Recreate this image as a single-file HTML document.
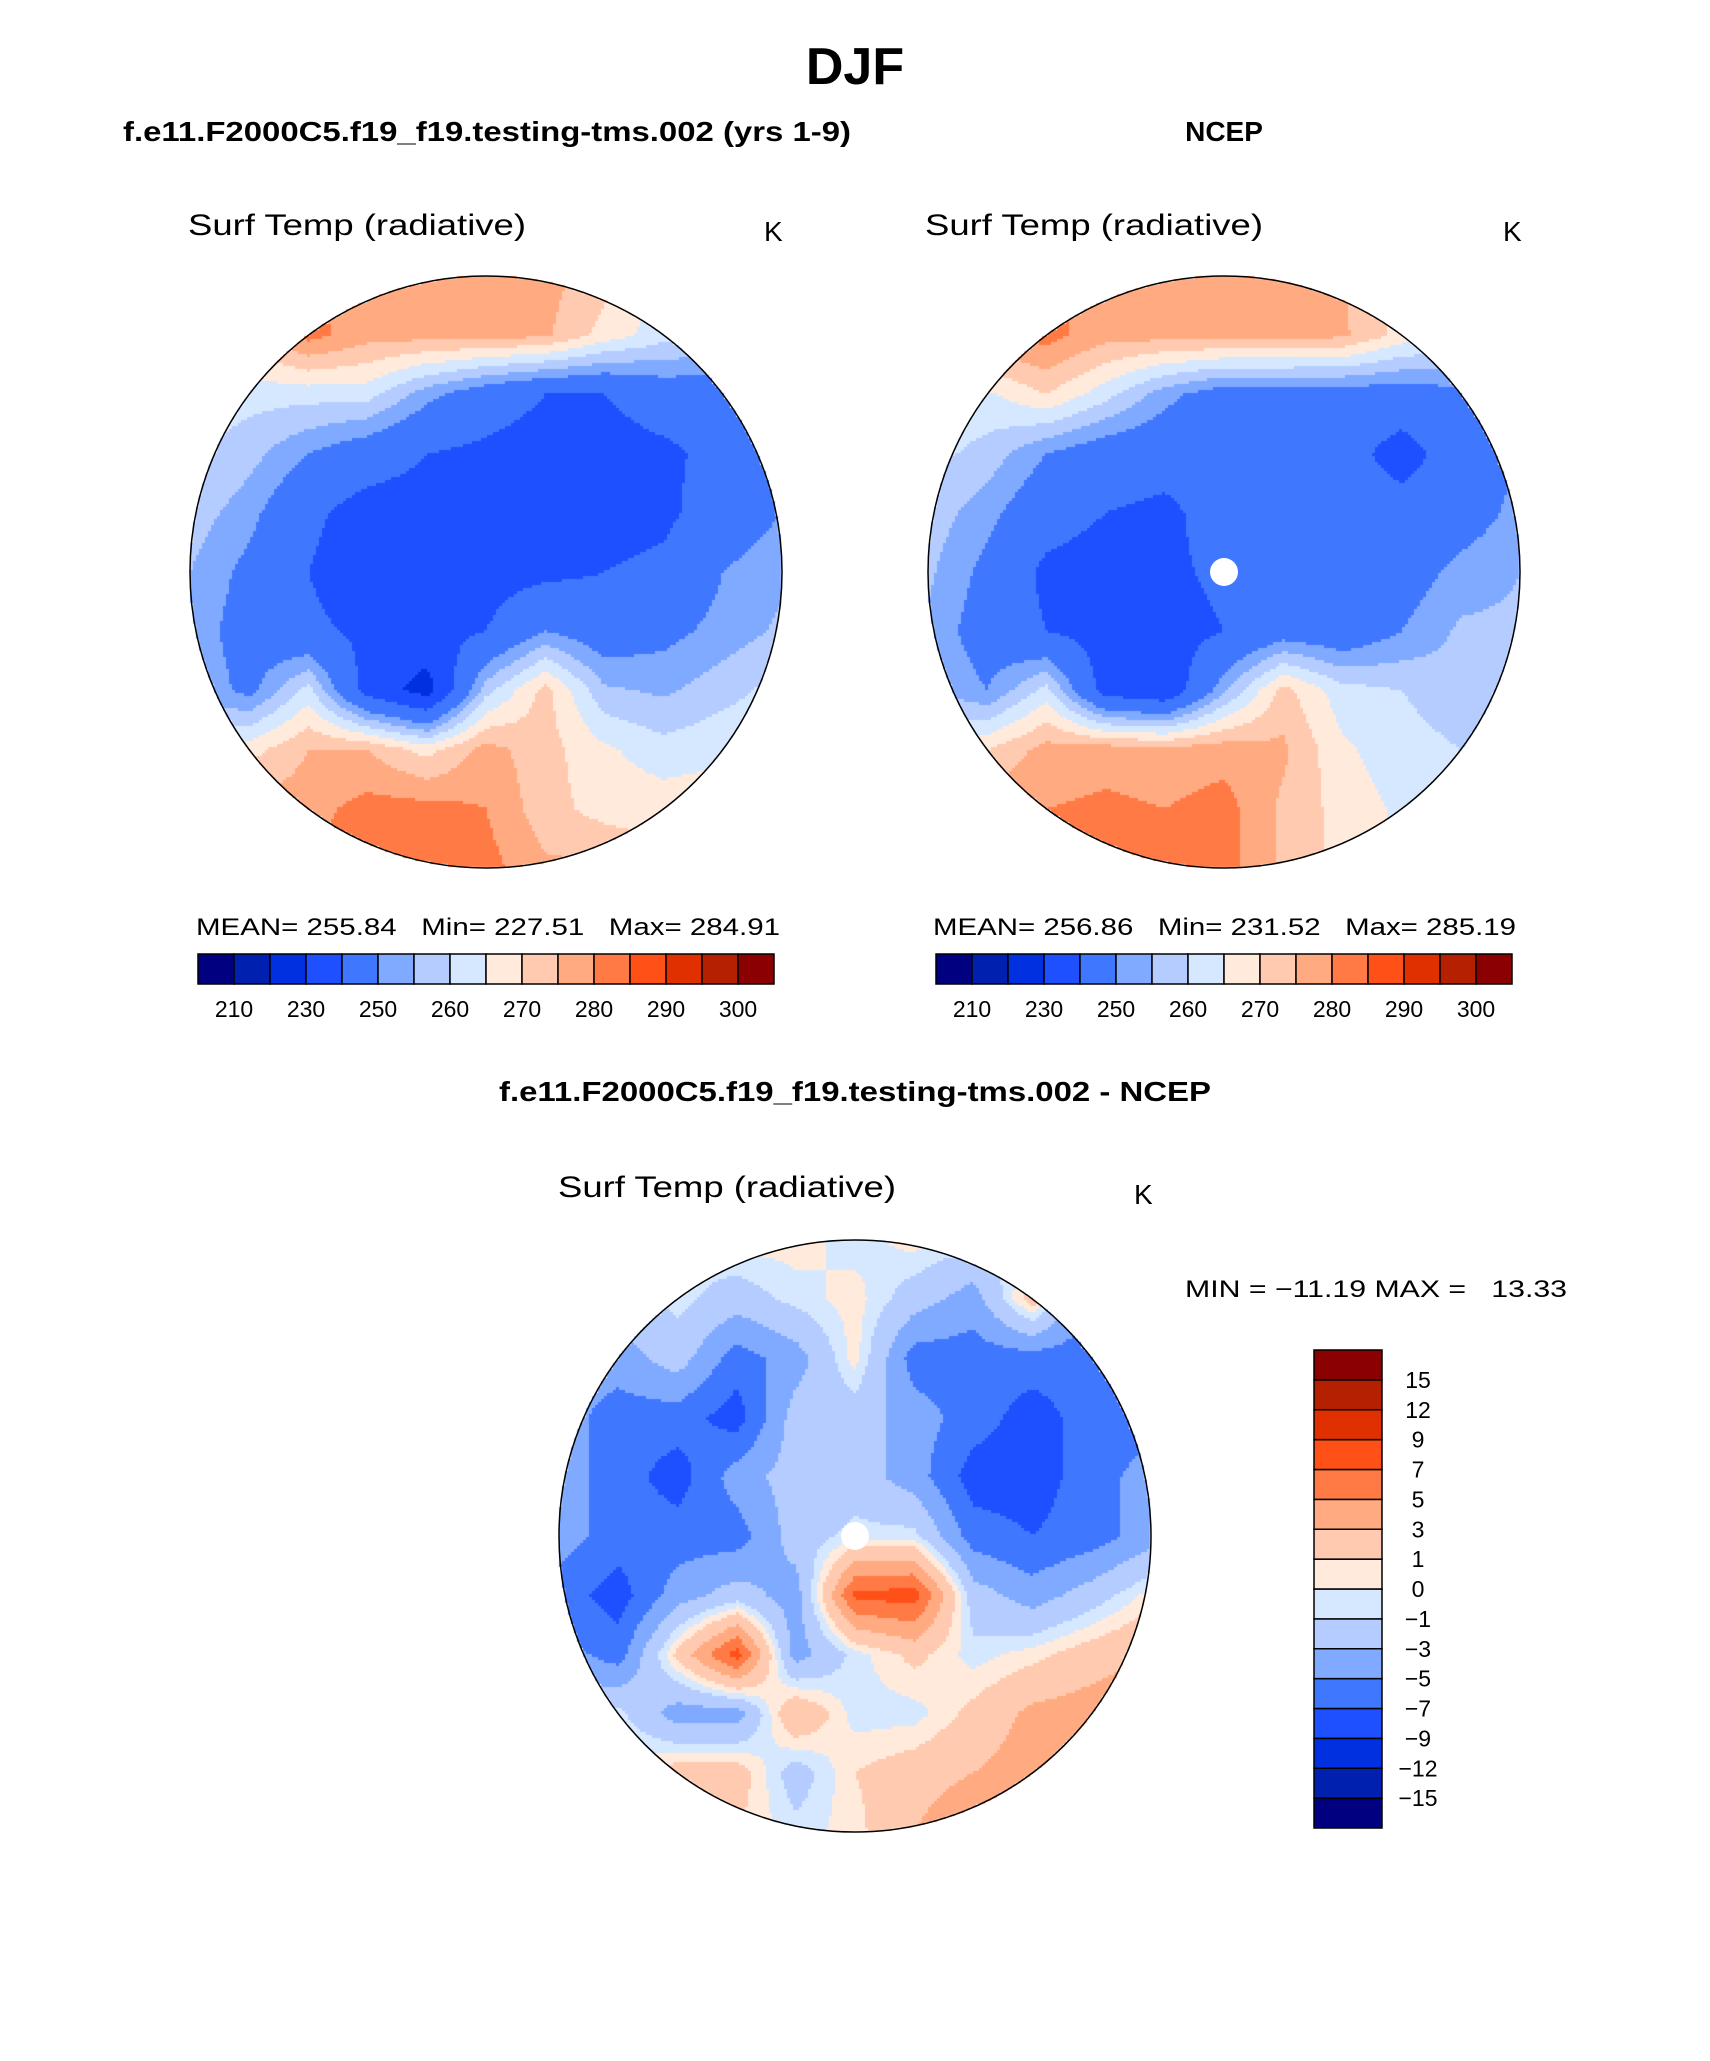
<!DOCTYPE html>
<html><head><meta charset="utf-8">
<style>
html,body{margin:0;padding:0;background:#fff;}
#wrap{position:relative;width:1710px;height:2061px;overflow:hidden;}
canvas,svg{position:absolute;left:0;top:0;}
</style></head>
<body>
<div id="wrap">
<canvas id="cv" width="1710" height="2061"></canvas>
<svg id="sv" width="1710" height="2061" xmlns="http://www.w3.org/2000/svg" font-family="Liberation Sans, sans-serif">
<text x="855" y="84" text-anchor="middle" font-size="52" font-weight="bold">DJF</text>
<text x="123" y="141" font-size="28" font-weight="bold" textLength="728" lengthAdjust="spacingAndGlyphs">f.e11.F2000C5.f19_f19.testing-tms.002 (yrs 1-9)</text>
<text x="1224" y="141" text-anchor="middle" font-size="28" font-weight="bold">NCEP</text>
<text x="188" y="235" font-size="30" textLength="338" lengthAdjust="spacingAndGlyphs">Surf Temp (radiative)</text>
<text x="764" y="241" font-size="28">K</text>
<text x="925" y="235" font-size="30" textLength="338" lengthAdjust="spacingAndGlyphs">Surf Temp (radiative)</text>
<text x="1503" y="241" font-size="28">K</text>
<text x="196" y="935" font-size="24" textLength="584" lengthAdjust="spacingAndGlyphs" xml:space="preserve">MEAN= 255.84   Min= 227.51   Max= 284.91</text>
<text x="933" y="935" font-size="24" textLength="583" lengthAdjust="spacingAndGlyphs" xml:space="preserve">MEAN= 256.86   Min= 231.52   Max= 285.19</text>
<text x="855" y="1101" text-anchor="middle" font-size="28" font-weight="bold" textLength="712" lengthAdjust="spacingAndGlyphs">f.e11.F2000C5.f19_f19.testing-tms.002 - NCEP</text>
<text x="558" y="1197" font-size="30" textLength="338" lengthAdjust="spacingAndGlyphs">Surf Temp (radiative)</text>
<text x="1134" y="1204" font-size="28">K</text>
<text x="1185" y="1297" font-size="24" textLength="382" lengthAdjust="spacingAndGlyphs" xml:space="preserve">MIN = −11.19 MAX =   13.33</text>
<g id="overlay"></g>
</svg>
</div>
<script>
// ---- colour scale data ----
const palette = ['#000080','#0020b0','#0030e0','#1e50ff','#4077ff','#80aaff','#b4ccff','#d6e8ff','#ffeadb','#ffcab0','#ffaa80','#ff7a45','#ff5018','#e03000','#b42000','#8b0000'];
const tempLevels = [210,220,230,240,250,255,260,265,270,275,280,285,290,295,300];
const tempTickLabels = ['210','230','250','260','270','280','290','300'];
const diffLevels = [-15,-12,-9,-7,-5,-3,-1,0,1,3,5,7,9,12,15];
const diffTickLabels = ['15','12','9','7','5','3','1','0','−1','−3','−5','−7','−9','−12','−15'];

// ---- field data (11x11 grid over each polar map, top row first) ----
const modelField = [
[277,277,280,277,277,277,277,272,265,262,262],
[272,272,282,277,277,277,276,268,262,260,258],
[262,262,262,262,252,245,240,240,245,245,245],
[262,257,250,245,240,238,236,236,238,243,248],
[258,252,242,236,236,236,236,236,238,245,250],
[255,248,240,234,234,236,238,240,242,250,254],
[254,246,242,238,236,240,250,245,248,252,256],
[255,248,262,236,226,258,272,256,254,258,262],
[262,268,275,275,268,277,272,266,262,264,265],
[276,277,278,282,282,280,272,268,268,268,268],
[282,282,282,282,282,282,276,276,270,268,268]];
const ncepField = [
[278,280,282,277,277,277,277,275,270,266,266],
[272,280,282,277,277,277,277,276,268,264,262],
[264,264,270,262,252,246,246,246,246,248,250],
[262,258,250,245,244,244,244,244,236,245,250],
[258,252,244,240,238,244,244,244,244,246,252],
[256,248,238,236,238,242,244,244,246,252,255],
[254,246,240,236,236,240,246,244,250,256,256],
[256,250,262,236,232,254,272,262,260,257,260],
[266,270,277,278,277,278,276,266,262,260,260],
[277,278,280,281,280,282,274,268,264,262,262],
[280,282,282,282,282,282,274,268,264,262,262]];
const diffField = [
[-0.5,-0.5,-0.5,0.5,0.5,-0.5,0.5,-0.5,-0.5,-0.5,-0.5],
[-4,-2,-0.5,-2,-0.5,0.5,-2,-4,2,-6,-6],
[-4,-4,-2,-6,-4,0.5,-6,-6,-6,-6,-6],
[-4,-6,-6,-8,-2,-2,-4,-6,-8,-6,-6],
[-4,-6,-8,-4,-2,-2,-4,-8,-8,-6,-4],
[-4,-6,-6,-6,-2,-0.5,-0.5,-6,-7,-6,-4],
[-6,-8,-4,-2,-4,7.5,8,-2,-4,-2,0.5],
[-4,-6,1.5,8,-4,-0.5,1.5,-0.5,0.5,2,3],
[-2,-0.5,-4,-4,3,-0.5,-0.5,1.5,3.5,4,5],
[1,0.5,2,2,-2,1,2,3,4,5.5,6],
[1,1,1,1,-0.5,0.5,3,5,6.5,8,8]];

const maps = [
 {field:modelField, levels:tempLevels, cx:486, cy:572, r:296, pole:false, name:'model-map'},
 {field:ncepField, levels:tempLevels, cx:1224, cy:572, r:296, pole:true, name:'ncep-map'},
 {field:diffField, levels:diffLevels, cx:855, cy:1536, r:296, pole:true, name:'diff-map'}
];

function colorFor(v, levels){
  let i=0; while(i<levels.length && v>=levels[i]) i++;
  return palette[i];
}
function sample(f, u, v){
  const n=f.length-1;
  u=Math.max(0,Math.min(n,u)); v=Math.max(0,Math.min(n,v));
  const i=Math.min(n-1,Math.floor(v)), j=Math.min(n-1,Math.floor(u));
  const fy=v-i, fx=u-j;
  const a=f[i][j],b=f[i][j+1],c=f[i+1][j],d=f[i+1][j+1];
  return a*(1-fx)*(1-fy)+b*fx*(1-fy)+c*(1-fx)*fy+d*fx*fy;
}
const ctx=document.getElementById('cv').getContext('2d');
const step=3;
maps.forEach(m=>{
  const n=m.field.length-1;
  for(let y=m.cy-m.r;y<m.cy+m.r;y+=step){
    for(let x=m.cx-m.r;x<m.cx+m.r;x+=step){
      const dx=x+step/2-m.cx, dy=y+step/2-m.cy;
      if(dx*dx+dy*dy>m.r*m.r) continue;
      const u=(x+step/2-(m.cx-m.r))/(2*m.r)*n, v=(y+step/2-(m.cy-m.r))/(2*m.r)*n;
      ctx.fillStyle=colorFor(sample(m.field,u,v),m.levels);
      ctx.fillRect(x,y,step,step);
    }
  }
});
const NS='http://www.w3.org/2000/svg';
const ov=document.getElementById('overlay');
function mk(tag,attrs){const e=document.createElementNS(NS,tag);for(const k in attrs)e.setAttribute(k,attrs[k]);ov.appendChild(e);return e;}
maps.forEach(m=>{
  if(m.pole){
    const p=mk('circle',{cx:m.cx,cy:m.cy,r:14,fill:'#fff'});
    
    
  }
  const c=mk('circle',{cx:m.cx,cy:m.cy,r:m.r,fill:'none',stroke:'#000','stroke-width':1.5});
  
  
});
[{x0:198,name:'left-colorbar'},{x0:936,name:'right-colorbar'}].forEach(cb=>{
  const w=576/palette.length;
  palette.forEach((col,i)=>{
    const r=mk('rect',{x:cb.x0+i*w,y:954,width:w,height:30,fill:col,stroke:'#000','stroke-width':1.5});
    
    
  });
  tempTickLabels.forEach((t,k)=>{
    const tx=mk('text',{x:cb.x0+(2*k+1)*w,y:1017,'text-anchor':'middle','font-size':23});
    tx.textContent=t;
    
    
  });
});
{
  const h=478/palette.length;
  palette.forEach((col,i)=>{
    const r=mk('rect',{x:1314,y:1350+(palette.length-1-i)*h,width:68,height:h,fill:col,stroke:'#000','stroke-width':1.5});
    
    
  });
  diffTickLabels.forEach((t,k)=>{
    const tx=mk('text',{x:1418,y:1350+(k+1)*h+8,'text-anchor':'middle','font-size':23});
    tx.textContent=t;
    
    
  });
}
</script>
</body></html>
